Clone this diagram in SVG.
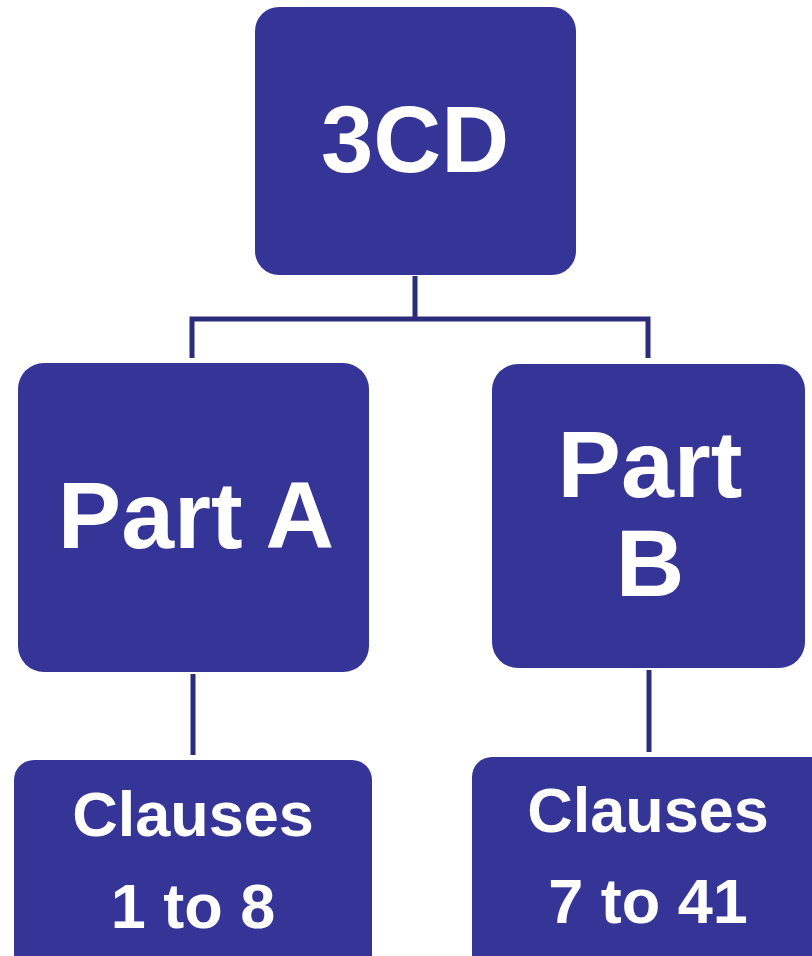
<svg xmlns="http://www.w3.org/2000/svg" width="812" height="956" viewBox="0 0 812 956">
<style>
.box{fill:#353598;}
.t{fill:#ffffff;font-family:"Liberation Sans",Arial,sans-serif;font-weight:bold;text-anchor:middle;}
.c{stroke:#2c2c7c;stroke-width:5;fill:none;}
</style>
<rect x="0" y="0" width="812" height="956" fill="#ffffff"/>
<g id="connectors">
<path class="c" d="M415,276 V319 M192,319 H650 M192,316.5 V358 M648,316.5 V358"/>
<path class="c" d="M193,674 V755"/>
<path class="c" d="M649,670 V752"/>
</g>
<g id="node-3cd">
<rect class="box" x="255" y="7" width="321" height="268" rx="24"/>
<text class="t" x="415" y="172" font-size="94">3CD</text>
</g>
<g id="node-parta">
<rect class="box" x="18" y="363" width="351" height="309" rx="26"/>
<text class="t" x="196" y="548" font-size="95">Part A</text>
</g>
<g id="node-partb">
<rect class="box" x="492" y="364" width="313" height="304" rx="26"/>
<text class="t" x="650" y="497" font-size="95">Part</text>
<text class="t" x="650" y="596" font-size="95">B</text>
</g>
<g id="node-clauses-a">
<rect class="box" x="14" y="760" width="358" height="220" rx="20"/>
<text class="t" x="193" y="836" font-size="63">Clauses</text>
<text class="t" x="193" y="928" font-size="63">1 to 8</text>
</g>
<g id="node-clauses-b">
<rect class="box" x="472" y="757" width="360" height="220" rx="20"/>
<text class="t" x="648" y="832" font-size="63">Clauses</text>
<text class="t" x="648" y="923" font-size="63">7 to 41</text>
</g>
</svg>
